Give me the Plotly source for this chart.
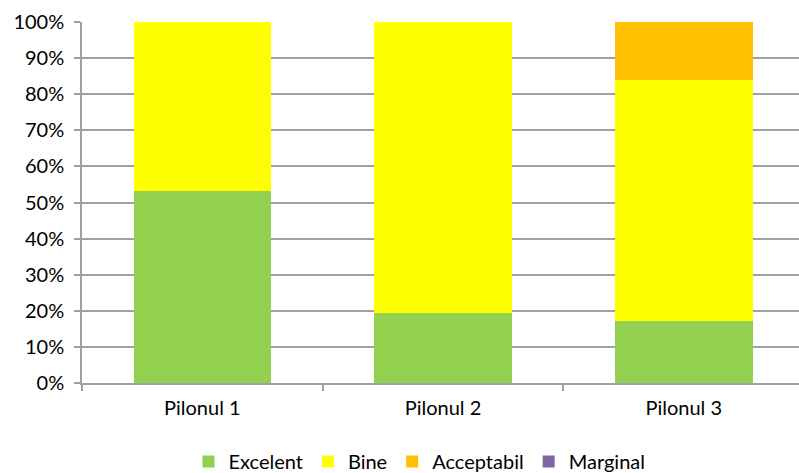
import plotly.graph_objects as go

categories = ["Pilonul 1", "Pilonul 2", "Pilonul 3"]
excelent = [0.533, 0.194, 0.172]
bine = [0.467, 0.806, 0.667]
acceptabil = [0.0, 0.0, 0.161]
marginal = [0.0, 0.0, 0.0]

series = [
    ("Excelent", excelent, "#92D050"),
    ("Bine", bine, "#FFFF00"),
    ("Acceptabil", acceptabil, "#FFC000"),
    ("Marginal", marginal, "#8064A2"),
]

fig = go.Figure()
for name, vals, color in series:
    fig.add_trace(go.Bar(x=categories, y=vals, name=name,
                         marker=dict(color=color, line=dict(width=0))))

fig.update_layout(
    barmode="stack",
    bargap=0.428,
    width=799, height=473,
    margin=dict(l=82, r=0, t=22, b=90),
    paper_bgcolor="white", plot_bgcolor="white",
    font=dict(family="Lato, Calibri, sans-serif", size=20, color="black"),
    showlegend=True,
    legend=dict(orientation="h", x=0.525, xanchor="center", xref="container",
                y=0.0, yanchor="bottom", yref="container",
                font=dict(size=20), traceorder="normal", itemwidth=30),
    xaxis=dict(range=[-0.5, 2.479], showline=True, linecolor="#a0a0a0", linewidth=1.5,
               ticks="outside", tickson="boundaries", ticklen=6, tickcolor="#a0a0a0",
               tickwidth=1.5, tickfont=dict(size=20), ticklabelstandoff=6,
               automargin=False),
    yaxis=dict(range=[0, 1], tickformat=".0%", dtick=0.1,
               showgrid=True, gridcolor="#a0a0a0", gridwidth=1.5,
               showline=True, linecolor="#a0a0a0", linewidth=1.5,
               ticks="outside", ticklen=6, tickcolor="#a0a0a0", tickwidth=1.5,
               tickfont=dict(size=20), zeroline=False, automargin=False,
               ticklabelstandoff=6),
)

post = """
document.body.style.margin='0';
document.body.style.overflow='hidden';
(function(){
  var gd = document.getElementById('{plot_id}');
  function shift(){
    var g = gd.querySelector('g.legend');
    if(!g) return;
    var t = g.getAttribute('transform') || '';
    var m = /translate\\(\\s*([-\\d.]+)[ ,]+([-\\d.]+)\\s*\\)/.exec(t);
    if(m){ g.setAttribute('transform','translate('+m[1]+','+(parseFloat(m[2])+8)+')'); }
  }
  shift();
  gd.on('plotly_afterplot', function(){ setTimeout(shift, 0); });
})();
"""

fig.write_html("out.html", config={"displayModeBar": False}, post_script=post)
